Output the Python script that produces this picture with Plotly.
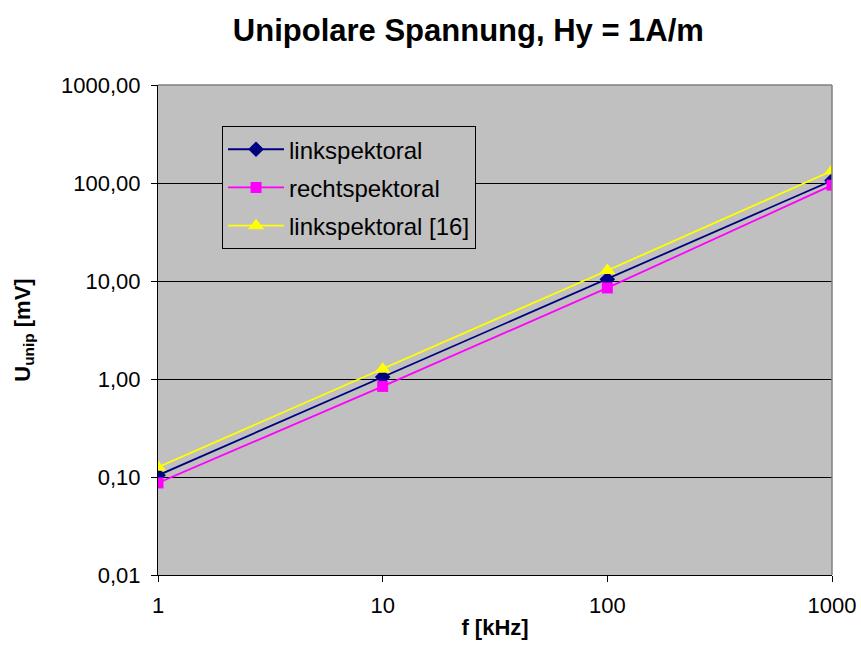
import plotly.graph_objects as go

# Frequency in kHz
freq_khz = [1, 10, 100, 1000]

# Unipolar voltage in mV
links = [0.104, 1.05, 10.4, 106]
rechts = [0.087, 0.84, 8.5, 95]
links_16 = [0.126, 1.26, 12.8, 133]

y_tickvals = [0.01, 0.1, 1, 10, 100, 1000]
y_ticktext = ["0,01", "0,10", "1,00", "10,00", "100,00", "1000,00"]
x_tickvals = [1, 10, 100, 1000]
x_ticktext = ["1", "10", "100", "1000"]

font_family = "Liberation Sans, Arial, sans-serif"

fig = go.Figure()
fig.add_trace(go.Scatter(
    x=freq_khz, y=links, name="linkspektoral", mode="lines+markers",
    legendgroup="a",
    line=dict(color="#000080", width=1.8),
    marker=dict(symbol="diamond", size=12, color="#000080"),
))
fig.add_trace(go.Scatter(
    x=freq_khz, y=rechts, name="rechtspektoral", mode="lines+markers",
    legendgroup="b",
    line=dict(color="#FF00FF", width=1.8),
    marker=dict(symbol="square", size=11, color="#FF00FF"),
))
fig.add_trace(go.Scatter(
    x=freq_khz, y=links_16, name="linkspektoral [16]", mode="lines+markers",
    legendgroup="c",
    line=dict(color="#FFFF00", width=1.8),
    marker=dict(symbol="triangle-up", size=14, color="#FFFF00"),
))

fig.update_layout(
    width=861, height=668,
    margin=dict(l=158, r=29, t=85, b=93),
    paper_bgcolor="white",
    plot_bgcolor="#C0C0C0",
    font=dict(family=font_family, size=22, color="black"),
    title=dict(
        text="<b>Unipolare Spannung, Hy = 1A/m</b>",
        x=0.544, xanchor="center", y=0.955, yanchor="middle",
        font=dict(size=31, family=font_family),
    ),
    showlegend=True,
    legend=dict(
        x=0.095, y=0.916, xanchor="left", yanchor="top",
        bgcolor="#C0C0C0", bordercolor="black", borderwidth=1,
        font=dict(size=24, family=font_family),
        itemwidth=56, tracegroupgap=4,
    ),
    xaxis=dict(
        type="log", range=[0, 3],
        tickvals=x_tickvals, ticktext=x_ticktext,
        showgrid=False, zeroline=False,
        showline=True, linecolor="black", linewidth=1,
        ticks="outside", ticklen=6, tickcolor="black",
        tickfont=dict(size=22), ticklabelstandoff=5,
        automargin=False,
        title=dict(text="<b>f [kHz]</b>", font=dict(size=22), standoff=2),
        mirror=False,
    ),
    yaxis=dict(
        type="log", range=[-2, 3],
        tickvals=y_tickvals, ticktext=y_ticktext,
        showgrid=True, gridcolor="black", gridwidth=1,
        zeroline=False,
        showline=True, linecolor="black", linewidth=1,
        ticks="outside", ticklen=6, tickcolor="black",
        tickfont=dict(size=22), ticklabelstandoff=6,
        automargin=False,
        title=dict(text="<b>U<sub>unip</sub> [mV]</b>", font=dict(size=22), standoff=24),
    ),
)

# Grey frame on the top and right of the plot area
fig.add_shape(type="line", xref="paper", yref="paper", x0=1, x1=1, y0=0, y1=1,
              line=dict(color="#808080", width=1.5))
fig.add_shape(type="line", xref="paper", yref="paper", x0=0, x1=1, y0=1, y1=1,
              line=dict(color="#808080", width=1.5))

fig.write_html("out.html")
